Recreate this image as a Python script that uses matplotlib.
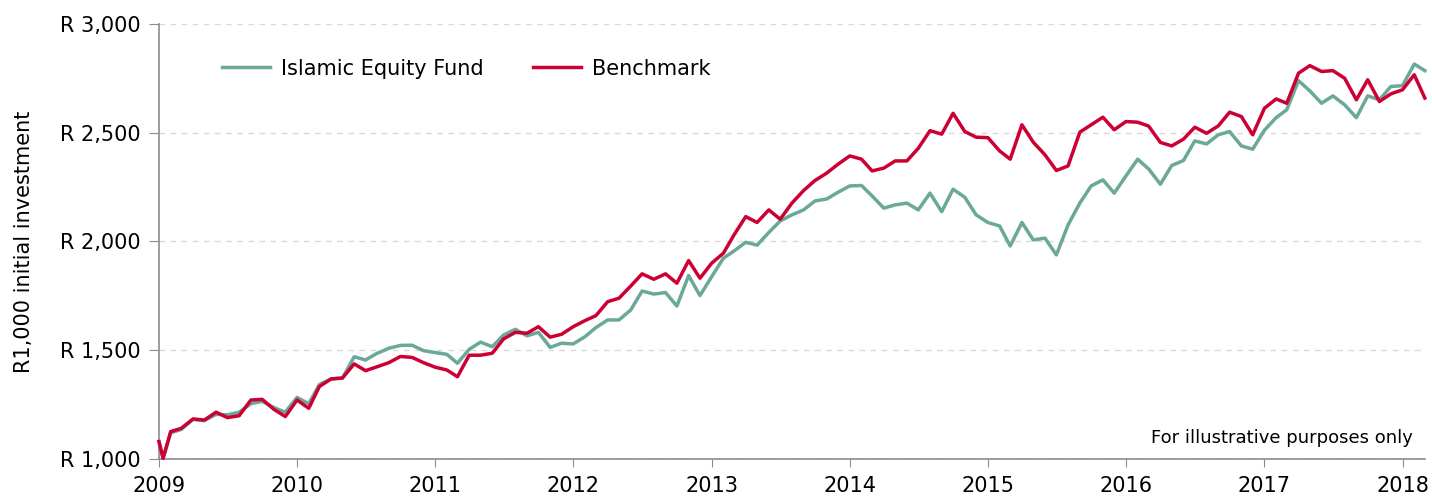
import matplotlib
matplotlib.use("Agg")
import matplotlib.dates as mdates
import matplotlib.pyplot as plt
import numpy as np
import pandas as pd
from matplotlib.ticker import FuncFormatter

# month-start dates Jan 2009 .. Mar 2018, plus the early-January low point
dates = list(pd.date_range("2009-01-01", "2018-03-01", freq="MS"))
dates.insert(1, pd.Timestamp("2009-01-12"))

fund = [
    1080, 1003, 1120, 1136, 1182, 1176, 1205, 1203, 1215, 1254, 1265, 1236, 1215,
    1283, 1254, 1342, 1368, 1372, 1470, 1455, 1486, 1509, 1522, 1523, 1498,
    1489, 1481, 1440, 1504, 1537, 1516, 1570, 1596, 1566, 1582, 1513, 1532,
    1529, 1562, 1604, 1639, 1639, 1685, 1772, 1758, 1765, 1703, 1843, 1751,
    1838, 1923, 1956, 1996, 1983, 2041, 2094, 2122, 2145, 2186, 2195, 2226,
    2255, 2257, 2209, 2153, 2168, 2176, 2145, 2222, 2137, 2240, 2203, 2122,
    2087, 2071, 1979, 2087, 2007, 2015, 1938, 2076, 2176, 2255, 2283, 2222,
    2301, 2378, 2333, 2263, 2349, 2372, 2462, 2448, 2490, 2505, 2439, 2424,
    2511, 2569, 2605, 2739, 2692, 2635, 2669, 2628, 2569, 2669, 2651, 2712,
    2716, 2815, 2785,
]

benchmark = [
    1080, 1003, 1126, 1141, 1184, 1179, 1215, 1190, 1199, 1271, 1274, 1228, 1195,
    1271, 1233, 1333, 1368, 1372, 1437, 1406, 1424, 1443, 1471, 1467, 1443,
    1422, 1409, 1378, 1477, 1477, 1486, 1552, 1582, 1578, 1608, 1560, 1573,
    1608, 1636, 1659, 1723, 1739, 1795, 1851, 1826, 1851, 1808, 1912, 1831,
    1900, 1946, 2030, 2114, 2087, 2145, 2102, 2176, 2234, 2280, 2314, 2355,
    2393, 2378, 2324, 2337, 2370, 2370, 2428, 2509, 2493, 2589, 2505, 2479,
    2477, 2416, 2378, 2536, 2456, 2398, 2326, 2347, 2502, 2536, 2571, 2513,
    2551, 2548, 2530, 2455, 2439, 2470, 2525, 2497, 2531, 2594, 2574, 2490,
    2612, 2655, 2635, 2773, 2808, 2781, 2785, 2750, 2651, 2743, 2643, 2678,
    2697, 2766, 2659,
]

y_ticks = [1000, 1500, 2000, 2500, 3000]

GREEN = "#6AA898"
RED = "#CC0033"
AXIS = "#8C8C8C"

plt.rcParams["font.family"] = ["DejaVu Sans"]

fig = plt.figure(figsize=(14.32, 4.97), dpi=100)
ax = fig.add_axes([0.111, 0.0765, 0.884, 0.8755])

ax.plot(dates, fund, color=GREEN, linewidth=2.5, label="Islamic Equity Fund",
        clip_on=False, zorder=3)
ax.plot(dates, benchmark, color=RED, linewidth=2.5, label="Benchmark",
        clip_on=False, zorder=4)

ax.set_xlim(pd.Timestamp("2009-01-01"), pd.Timestamp("2018-03-01"))
ax.set_ylim(1000, 3000)
ax.set_yticks(y_ticks)
ax.yaxis.set_major_formatter(FuncFormatter(lambda v, _: f"R {v:,.0f}"))
ax.xaxis.set_major_locator(mdates.YearLocator())
ax.xaxis.set_major_formatter(mdates.DateFormatter("%Y"))

ax.grid(axis="y", linestyle=(0, (4, 4)), color="#D9D9D9", linewidth=1)
ax.set_axisbelow(True)
for side in ("top", "right"):
    ax.spines[side].set_visible(False)
for side in ("left", "bottom"):
    ax.spines[side].set_color(AXIS)
    ax.spines[side].set_linewidth(1.2)

ax.tick_params(axis="y", length=7, color=AXIS, labelsize=15, pad=6)
ax.tick_params(axis="x", length=6, color=AXIS, labelsize=15, pad=6)
ax.set_ylabel("R1,000 initial investment", fontsize=15, labelpad=19)

ax.legend(loc="center left", bbox_to_anchor=(0.05, 0.897), ncol=2, frameon=False,
          fontsize=15, borderaxespad=0, borderpad=0, handlelength=2.3,
          handletextpad=0.5, columnspacing=2.4)

ax.text(0.9905, 0.048, "For illustrative purposes only", transform=ax.transAxes,
        ha="right", va="center", fontsize=13)

fig.savefig("out.png", dpi=100)
